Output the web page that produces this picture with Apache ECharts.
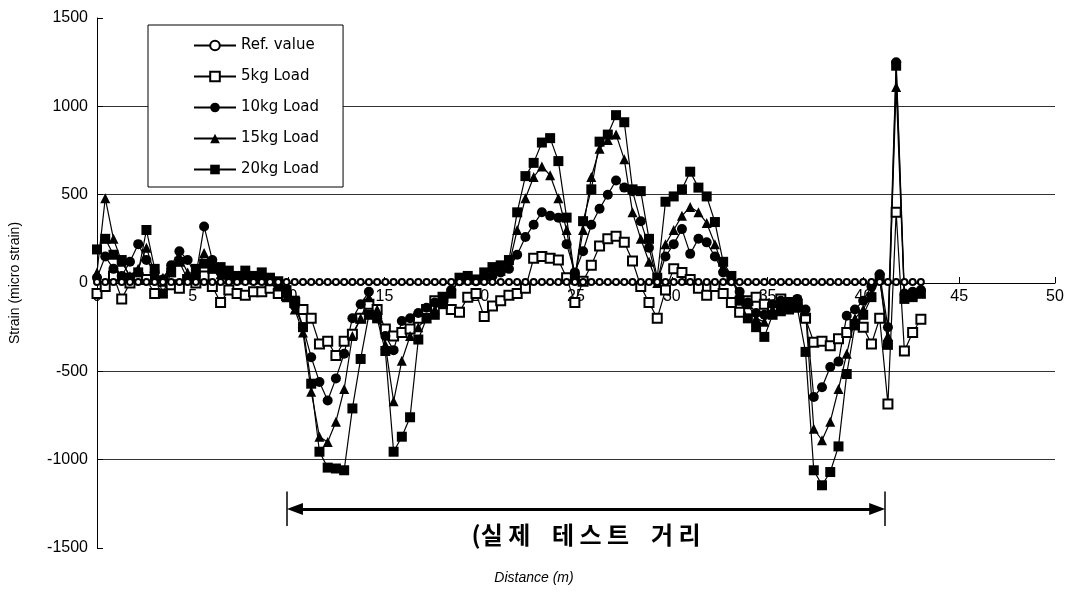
<!DOCTYPE html>
<html>
<head>
<meta charset="utf-8">
<script src="https://cdn.jsdelivr.net/npm/echarts@6/dist/echarts.min.js"></script>
<style>
html, body { margin: 0; padding: 0; background: #fff; }
#chart { width: 1068px; height: 592px; }
</style>
</head>
<body>
<div id="chart"></div>
<script>
// distance along the test track (m)
var distance = [
  0, 0.43, 0.86, 1.29, 1.72, 2.15, 2.58, 3.01, 3.44, 3.87,
  4.3, 4.73, 5.16, 5.59, 6.02, 6.45, 6.88, 7.31, 7.74, 8.17,
  8.6, 9.03, 9.46, 9.89, 10.32, 10.75, 11.18, 11.61, 12.04, 12.47,
  12.9, 13.33, 13.76, 14.19, 14.62, 15.05, 15.48, 15.91, 16.34, 16.77,
  17.2, 17.63, 18.06, 18.49, 18.92, 19.35, 19.78, 20.21, 20.64, 21.07,
  21.5, 21.93, 22.36, 22.79, 23.22, 23.65, 24.08, 24.51, 24.94, 25.37,
  25.8, 26.23, 26.66, 27.09, 27.52, 27.95, 28.38, 28.81, 29.24, 29.67,
  30.1, 30.53, 30.96, 31.39, 31.82, 32.25, 32.68, 33.11, 33.54, 33.97,
  34.4, 34.83, 35.26, 35.69, 36.12, 36.55, 36.98, 37.41, 37.84, 38.27,
  38.7, 39.13, 39.56, 39.99, 40.42, 40.85, 41.28, 41.71, 42.14, 42.57,
  43.0
];

var refValue = [
  5, 5, 5, 5, 5, 5, 5, 5, 5, 5,
  5, 5, 5, 5, 5, 5, 5, 5, 5, 5,
  5, 5, 5, 5, 5, 5, 5, 5, 5, 5,
  5, 5, 5, 5, 5, 5, 5, 5, 5, 5,
  5, 5, 5, 5, 5, 5, 5, 5, 5, 5,
  5, 5, 5, 5, 5, 5, 5, 5, 5, 5,
  5, 5, 5, 5, 5, 5, 5, 5, 5, 5,
  5, 5, 5, 5, 5, 5, 5, 5, 5, 5,
  5, 5, 5, 5, 5, 5, 5, 5, 5, 5,
  5, 5, 5, 5, 5, 5, 5, 5, 5, 5,
  5
];

var load5 = [
  -60, -20, 40, -90, 0, 30, 20, -60, 10, -10,
  -30, 20, 0, 40, -20, -110, -40, -60, -70, -50,
  -50, -30, -60, -70, -110, -150, -200, -345, -330, -410,
  -330, -290, -200, -120, -150, -260, -300, -280, -260, -200,
  -150, -100, -80, -150, -165, -80, -60, -190, -130, -100,
  -70, -60, -30, 140, 150, 140, 130, 30, -110, 10,
  100, 210, 250, 265, 230, 125, -20, -110, -200, -40,
  80, 60, 20, -30, -70, -20, -60, -110, -165, -100,
  -80, -120, -140, -90, -110, -120, -200, -335, -330, -355,
  -315, -280, -235, -250, -345, -200, -685, 400, -385, -280,
  -205
];

var load10 = [
  30, 150, 80, 40, 120, 220, 130, 60, 20, 100,
  180, 130, 40, 320, 130, 60, 30, 20, 30, 20,
  20, 10, -10, -60, -130, -250, -420, -560, -665, -540,
  -400, -200, -120, -50, -200, -300, -380, -215, -200, -170,
  -140, -110, -80, -40, 10, 20, 10, 30, 40, 60,
  80, 160, 260, 330, 400, 380, 370, 220, 60, 180,
  330, 420, 500, 580, 540, 520, 350, 200, 10, 150,
  220, 305, 165, 250, 230, 150, 60, 10, -50, -110,
  -170, -180, -120, -100, -110, -90, -150, -645, -590, -475,
  -445, -185, -150, -100, -20, 50, -250, 1250, -60, -50,
  -40
];

var load15 = [
  60, 480, 250, 120, 40, 80, 200, 50, 30, 90,
  150, 60, 50, 170, 100, 50, 30, 20, 30, 20,
  30, 10, -20, -80, -150, -280, -615, -870, -900, -785,
  -600, -300, -200, -80, -150, -350, -670, -440, -300, -250,
  -200, -150, -100, -50, 20, 30, 20, 40, 60, 70,
  100, 300, 480, 600, 660, 610, 480, 300, 20, 300,
  600, 760, 810, 840, 700, 400, 250, 120, 0, 220,
  300, 380, 430, 400, 340, 220, 90, 20, -50, -120,
  -200, -220, -150, -120, -130, -100, -160, -825, -890, -785,
  -600, -400, -200, -150, -60, 20, -300, 1110, -80, -70,
  -60
];

var load20 = [
  190, 250, 160, 130, 30, 60, 300, 80, -60, 60,
  120, 20, 80, 110, 80, 90, 70, 40, 70, 40,
  60, 30, 10, -40, -100, -250, -570, -955, -1045, -1050,
  -1060, -710, -430, -180, -200, -385, -955, -870, -760, -320,
  -200, -180, -120, -60, 30, 40, 20, 60, 90, 100,
  130, 400, 605, 680, 795, 820, 690, 370, 30, 350,
  530, 800, 840, 950, 910, 530, 520, 250, 30, 460,
  490, 530, 630, 540, 490, 345, 120, 40, -100, -200,
  -250, -305, -180, -160, -150, -140, -390, -1060, -1145, -1070,
  -925, -515, -240, -180, -80, 30, -350, 1230, -90, -80,
  -60
];

// test section marker (m) and its height on the strain axis
var testStart = 9.92;
var testEnd = 41.13;
var arrowFrom = 10.33;   // arrow heads end on the bars
var arrowTo = 40.72;
var arrowY = -1279;
var barTop = -1180;
var barBottom = -1375;

function pairs(vals) {
  return vals.map(function (v, i) { return [distance[i], v]; });
}

var myChart = echarts.init(document.getElementById('chart'));

var tickFont = 'Liberation Sans, Arial, sans-serif';

var option = {
  animation: false,
  backgroundColor: '#fff',
  title: {
    text: 'Distance (m)',
    left: 'center',
    top: 566,
    textStyle: { fontSize: 14, fontStyle: 'italic', fontWeight: 'normal', fontFamily: tickFont, color: '#000' }
  },
  legend: {
    orient: 'vertical',
    left: 148,
    top: 25,
    padding: [13, 24, 10, 45],
    itemGap: 16,
    itemWidth: 42,
    itemHeight: 12,
    backgroundColor: '#fff',
    borderColor: '#000',
    borderWidth: 1,
    borderRadius: 0,
    textStyle: { fontSize: 15, color: '#000', fontFamily: 'DejaVu Sans, sans-serif' },
    data: ['Ref. value', '5kg Load', '10kg Load', '15kg Load', '20kg Load']
  },
  grid: {
    left: 97,
    right: 13,
    top: 18,
    bottom: 44,
    containLabel: false,
    outerBoundsMode: 'none'
  },
  xAxis: {
    type: 'value',
    min: 0,
    max: 50,
    interval: 5,
    // sits on the zero line of the strain axis (half of the 530px plot height)
    position: 'bottom',
    offset: -265,
    axisLine: { onZero: false, lineStyle: { color: '#000', width: 1 } },
    axisTick: { show: true, inside: true, length: 6, lineStyle: { color: '#000' } },
    axisLabel: { color: '#000', fontSize: 16, fontFamily: tickFont, margin: 6 },
    splitLine: { show: false }
  },
  yAxis: {
    type: 'value',
    min: -1500,
    max: 1500,
    interval: 500,
    name: 'Strain (micro strain)',
    nameLocation: 'middle',
    nameGap: 75,
    nameTextStyle: { fontSize: 14, color: '#000', fontFamily: tickFont },
    axisLine: { show: true, lineStyle: { color: '#000', width: 1 } },
    axisTick: { show: true, inside: true, length: 6, lineStyle: { color: '#000' } },
    axisLabel: {
      color: '#000', fontSize: 16, fontFamily: tickFont, margin: 9,
      formatter: function (v) { return String(v); }
    },
    splitLine: { show: true, showMinLine: false, showMaxLine: false, lineStyle: { color: '#333', width: 1 } }
  },
  series: [{
    name: 'Ref. value',
    type: 'line',
    z: 6,
    data: pairs(refValue),
    symbol: 'emptyCircle',
    symbolSize: 6,
    lineStyle: { color: '#000', width: 1.2 },
    itemStyle: { color: '#000', borderWidth: 1.2 },
    markLine: {
      silent: true,
      animation: false,
      symbol: 'none',
      lineStyle: { color: '#000', width: 1.5, type: 'solid' },
      label: { show: false },
      data: [
        [{
          coord: [arrowFrom, arrowY],
          symbol: 'triangle',
          symbolSize: [12, 16],
          lineStyle: { color: '#000', width: 3, type: 'solid' },
          label: {
            show: true,
            position: 'insideMiddleBottom',
            distance: 14,
            formatter: '(실 제    테 스 트    거 리',
            color: '#000',
            fontSize: 24,
            fontWeight: 'bold',
            fontFamily: 'Noto Sans CJK KR, sans-serif'
          }
        }, {
          coord: [arrowTo, arrowY],
          symbol: 'triangle',
          symbolSize: [12, 16]
        }],
        [{ coord: [testStart, barTop] }, { coord: [testStart, barBottom] }],
        [{ coord: [testEnd, barTop] }, { coord: [testEnd, barBottom] }]
      ]
    }
  }, {
    name: '5kg Load',
    type: 'line',
    z: 3,
    data: pairs(load5),
    symbol: 'emptyRect',
    symbolSize: 9,
    lineStyle: { color: '#000', width: 1.2 },
    itemStyle: { color: '#000', borderWidth: 1.5 }
  }, {
    name: '10kg Load',
    type: 'line',
    z: 3,
    data: pairs(load10),
    symbol: 'circle',
    symbolSize: 10,
    lineStyle: { color: '#000', width: 1.2 },
    itemStyle: { color: '#000' }
  }, {
    name: '15kg Load',
    type: 'line',
    z: 3,
    data: pairs(load15),
    symbol: 'triangle',
    symbolSize: 10,
    lineStyle: { color: '#000', width: 1.2 },
    itemStyle: { color: '#000' }
  }, {
    name: '20kg Load',
    type: 'line',
    z: 3,
    data: pairs(load20),
    symbol: 'rect',
    symbolSize: 10,
    lineStyle: { color: '#000', width: 1.2 },
    itemStyle: { color: '#000' }
  }]
};

myChart.setOption(option);
</script>
</body>
</html>
